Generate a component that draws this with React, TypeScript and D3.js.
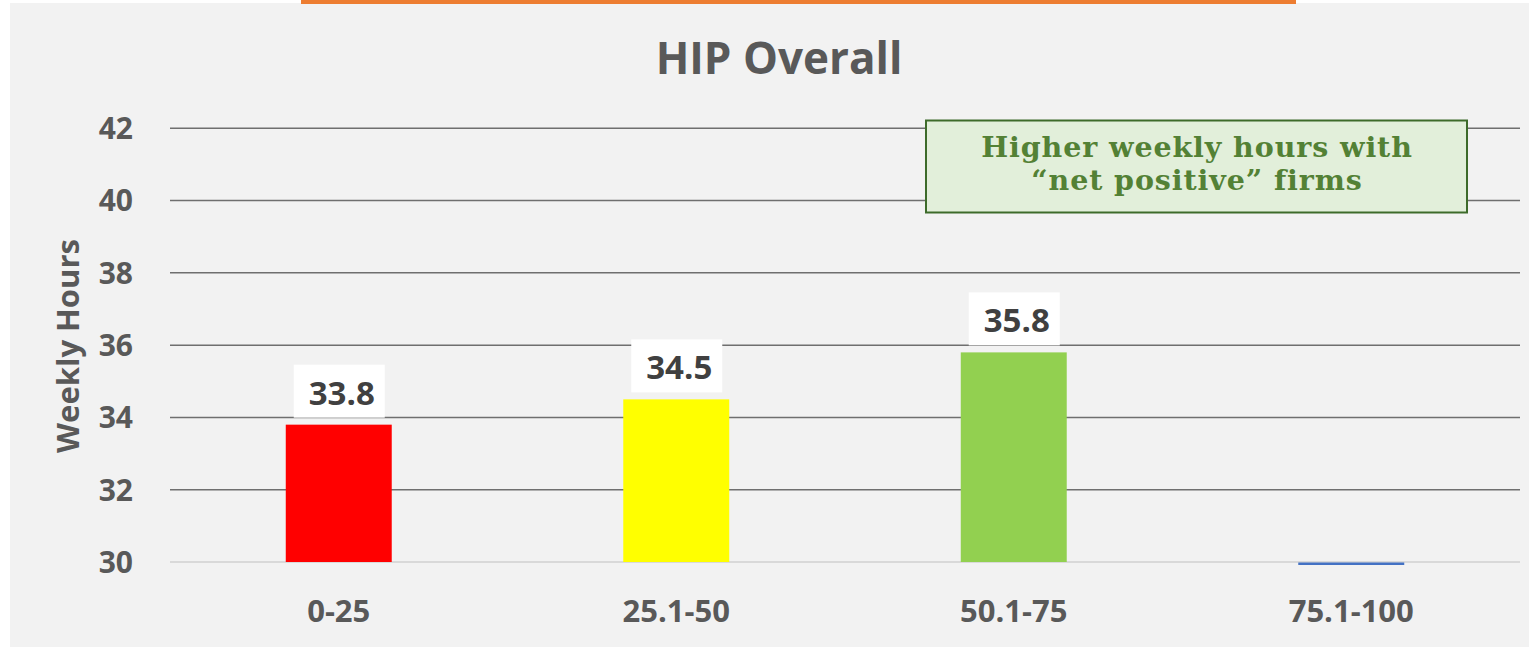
import React from "react";
import * as d3 from "d3";

const categories = ["0-25", "25.1-50", "50.1-75", "75.1-100"];
const values = [33.8, 34.5, 35.8, 0];
const barColors = ["#ff0000", "#ffff00", "#92d050", "#4472c4"];
const yTicks = [30, 32, 34, 36, 38, 40, 42];
const labelShown = [true, true, true, false];
const title = "HIP Overall";
const yTitle = "Weekly Hours";
const noteLines = ["Higher weekly hours with", "\u201cnet positive\u201d firms"];

const W = 1529;
const H = 647;
const plot = { left: 170, right: 1520, top: 128.3, bottom: 562 };
const font = "'Open Sans', sans-serif";

export default function App() {
  const x = d3.scaleBand<string>().domain(categories).range([plot.left, plot.right]).paddingInner(0.686).paddingOuter(0.343);
  const y = d3.scaleLinear().domain([30, 42]).range([plot.bottom, plot.top]);
  const bw = x.bandwidth();

  return (
    <svg width={W} height={H} style={{ position: "absolute", left: 0, top: 0, display: "block" }}>
      <rect x={0} y={0} width={W} height={H} fill="#ffffff" />
      <rect x={10} y={3} width={W - 10} height={H - 3} fill="#f2f2f2" />
      <rect x={301} y={0} width={995} height={4} fill="#ed7d31" />

      <text x={779} y={74} textAnchor="middle" fontFamily={font} fontWeight={700} fontSize={44} fill="#595959">
        {title}
      </text>

      {yTicks.map((t) => (
        <g key={t}>
          <line
            x1={plot.left}
            x2={plot.right}
            y1={y(t)}
            y2={y(t)}
            stroke={t === 30 ? "#d9d9d9" : "#6f6f6f"}
            strokeWidth={t === 30 ? 2 : 1.5}
          />
          <text x={133} y={y(t)} dy="0.36em" textAnchor="end" fontFamily={font} fontWeight={700} fontSize={30} fill="#595959">
            {t}
          </text>
        </g>
      ))}

      <text
        transform={`translate(68,346) rotate(-90)`}
        textAnchor="middle"
        dy="0.36em"
        fontFamily={font}
        fontWeight={700}
        fontSize={31}
        fill="#595959"
      >
        {yTitle}
      </text>

      {categories.map((c, i) => {
        const v = values[i];
        const x0 = x(c)!;
        const inRange = v >= y.domain()[0];
        const top = inRange ? y(v) : y(y.domain()[0]);
        const h = inRange ? y(y.domain()[0]) - y(v) : 2.5;
        const cx = x0 + bw / 2;
        return (
          <g key={c}>
            <rect x={x0} y={inRange ? top : top + 0.5} width={bw} height={h} fill={barColors[i]} />
            {labelShown[i] && (
              <g>
                <rect x={cx - 45} y={top - 60} width={91} height={53} fill="#ffffff" />
                <text x={cx + 3} y={top - 20} textAnchor="middle" fontFamily={font} fontWeight={700} fontSize={33} fill="#404040">
                  {v.toFixed(1)}
                </text>
              </g>
            )}
            <text x={cx} y={611} dy="0.36em" textAnchor="middle" fontFamily={font} fontWeight={700} fontSize={31} fill="#595959">
              {c}
            </text>
          </g>
        );
      })}

      <rect x={926} y={120.5} width={541} height={92} fill="#e2efda" stroke="#3d6b2a" strokeWidth={2} />
      {noteLines.map((l, i) => (
        <text
          key={i}
          x={1197}
          y={157 + i * 33}
          textAnchor="middle"
          fontFamily="'DejaVu Serif', serif"
          fontWeight={700}
          fontSize={28.5}
          letterSpacing={0.9}
          fill="#538135"
        >
          {l}
        </text>
      ))}
    </svg>
  );
}
